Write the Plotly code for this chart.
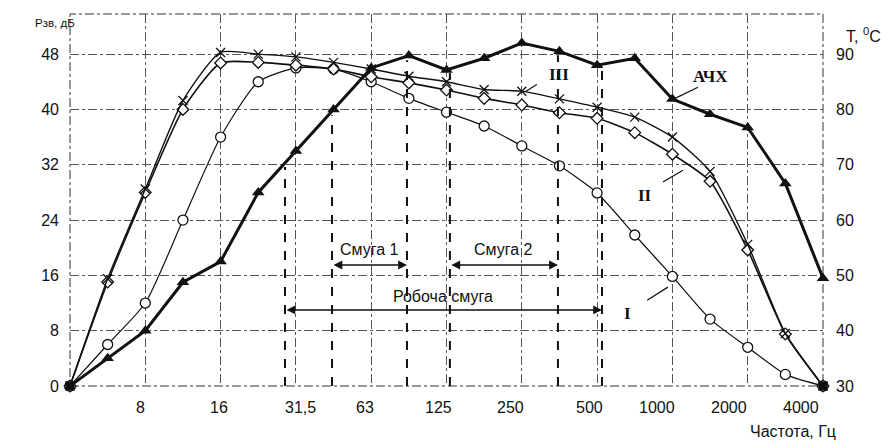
import numpy as np
import plotly.graph_objects as go

# ---------------- data ----------------
step = list(range(21))  # half-octave steps from 4 Hz to ~5600 Hz
freq_labels = ["8", "16", "31,5", "63", "125", "250", "500", "1000", "2000", "4000"]

# АЧХ, dB (left axis)
ach_db = [0, 4, 8, 15, 18, 28, 34, 40, 46, 47.8, 45.7, 47.4, 49.6, 48.4, 46.4,
          47.4, 41.5, 39.3, 37.4, 29.3, 15.6]
# temperature curves, °C (right axis)
t_I = [30, 37.5, 45, 60, 75, 85, 87.5, 87.3, 85, 82, 79.5, 77, 73.4, 69.8, 64.9,
       57.3, 49.8, 42.1, 37, 32.1, 30]
t_II = [30, 48.8, 65, 80, 88.4, 88.5, 88, 87.3, 85.9, 84.8, 83.5, 82, 80.8, 79.4,
        78.4, 75.8, 71.9, 67, 54.6, 39.4, 30]
t_III = [30, 49.4, 65.6, 81.6, 90.3, 90, 89.5, 88.5, 87.3, 86, 85, 83.6, 83.3,
         81.9, 80.4, 78.6, 75, 68.8, 55.6, 39.5, 30]

# band edges (in half-octave steps)
band_work = (5.71, 14.13)
band_1 = (6.96, 8.95)
band_2 = (10.09, 12.96)

# ---------------- layout helpers ----------------
label_pos = [1.86, 3.96, 6.11, 7.83, 9.80, 11.71, 13.81, 15.59, 17.50, 19.42]
Y_TOP = 53.8
T_TOP = 30 + Y_TOP * 1.25
SANS = "Liberation Sans, Arial, sans-serif"
SERIF = "Liberation Serif, Times New Roman, serif"
BLACK = "#111111"

fig = go.Figure()

fig.add_trace(go.Scatter(
    x=step, y=t_I, yaxis="y2", mode="lines+markers", line=dict(color=BLACK, width=1.2, shape="spline", smoothing=0.6),
    marker=dict(symbol="circle", size=10, color="white", line=dict(color=BLACK, width=1.3)),
    cliponaxis=False, showlegend=False))
fig.add_trace(go.Scatter(
    x=step, y=t_II, yaxis="y2", mode="lines+markers", line=dict(color=BLACK, width=1.6, shape="spline", smoothing=0.6),
    marker=dict(symbol="diamond", size=9, color="white", line=dict(color=BLACK, width=1.3)),
    cliponaxis=False, showlegend=False))
fig.add_trace(go.Scatter(
    x=step, y=t_III, yaxis="y2", mode="lines+markers", line=dict(color=BLACK, width=1.4, shape="spline", smoothing=0.6),
    marker=dict(symbol="x-thin", size=9, color=BLACK, line=dict(color=BLACK, width=1.3)),
    cliponaxis=False, showlegend=False))
fig.add_trace(go.Scatter(
    x=step, y=ach_db, mode="lines+markers", line=dict(color=BLACK, width=3),
    marker=dict(symbol="triangle-up", size=11, color=BLACK),
    cliponaxis=False, showlegend=False))
# end squares
fig.add_trace(go.Scatter(
    x=[step[0], step[-1]], y=[t_I[0], t_I[-1]], yaxis="y2", mode="markers",
    marker=dict(symbol="square", size=9, color=BLACK), cliponaxis=False, showlegend=False))

shapes = []
# plot border
shapes.append(dict(type="rect", xref="paper", yref="paper", x0=0, x1=1, y0=0, y1=1,
                   line=dict(color="#333", width=1, dash="dashdot"), layer="below"))
# band dashed verticals
for xe in [band_work[0], band_1[0], band_1[1], band_2[0], band_2[1], band_work[1]]:
    top = float(np.interp(xe, step, ach_db)) - 0.6
    shapes.append(dict(type="line", xref="x", yref="y", x0=xe, x1=xe, y0=0, y1=top,
                       line=dict(color=BLACK, width=2, dash="dash")))

# leader lines for curve labels
leaders = [((16.68, 43.2), (16.07, 41.6)), ((12.40, 43.6), (12.10, 42.6)),
           ((15.75, 29.5), (16.28, 31.2)), ((15.33, 12.4), (15.88, 14.3))]
for (a, b) in leaders:
    shapes.append(dict(type="line", xref="x", yref="y", x0=a[0], y0=a[1], x1=b[0], y1=b[1],
                       line=dict(color=BLACK, width=1.2)))

ann = []
for lab, p in zip(freq_labels, label_pos):
    ann.append(dict(x=p, y=0, xref="x", yref="paper", yshift=-21, text=lab, showarrow=False,
                    font=dict(family=SANS, size=16, color=BLACK), yanchor="middle"))

# band arrows
for (x0, x1), yv in [(band_work, 11), (band_1, 17.5), (band_2, 17.5)]:
    ann.append(dict(x=x1, y=yv, ax=x0, ay=yv, xref="x", yref="y", axref="x", ayref="y",
                    text="", showarrow=True, arrowhead=2, arrowside="end+start", arrowsize=1.1,
                    arrowwidth=1.6, arrowcolor=BLACK, standoff=0, startstandoff=0))
ann.append(dict(x=(band_1[0] + band_1[1]) / 2, y=19.7, xref="x", yref="y", text="Смуга 1",
                showarrow=False, font=dict(family=SANS, size=16, color=BLACK)))
ann.append(dict(x=(band_2[0] + band_2[1]) / 2, y=19.7, xref="x", yref="y", text="Смуга 2",
                showarrow=False, font=dict(family=SANS, size=16, color=BLACK)))
ann.append(dict(x=(band_work[0] + band_work[1]) / 2, y=12.9, xref="x", yref="y", text="Робоча смуга",
                showarrow=False, font=dict(family=SANS, size=16, color=BLACK)))

# curve labels
for txt, xx, yy in [("АЧХ", 17.0, 44.7), ("III", 12.99, 45.0), ("II", 15.27, 27.6), ("I", 14.82, 10.55)]:
    ann.append(dict(x=xx, y=yy, xref="x", yref="y", text="<b>" + txt + "</b>", showarrow=False,
                    font=dict(family=SERIF, size=17, color=BLACK)))

# axis titles
ann.append(dict(x=-0.049, y=0.997, xref="paper", yref="paper", text="Рзв, дБ", showarrow=False,
                font=dict(family=SANS, size=11.5, color=BLACK)))
ann.append(dict(x=1.0, y=1.0, xref="paper", yref="paper", xshift=40, yshift=-21,
                text="T, <sup>0</sup>C", showarrow=False, xanchor="center", yanchor="middle",
                font=dict(family=SANS, size=16, color=BLACK)))
ann.append(dict(x=1.0, y=0, xref="paper", yref="paper", xshift=-30, yshift=-45,
                text="Частота, Гц", showarrow=False, xanchor="center", yanchor="middle",
                font=dict(family=SANS, size=16, color=BLACK)))

fig.update_layout(
    width=891, height=443,
    margin=dict(l=70, r=68, t=14, b=57),
    paper_bgcolor="white", plot_bgcolor="white",
    xaxis=dict(range=[0, 20], tickvals=list(range(0, 21, 2)), showticklabels=False,
               showgrid=True, gridcolor="#555", gridwidth=1, griddash="dashdot",
               zeroline=False, showline=False, ticks=""),
    yaxis=dict(range=[0, Y_TOP], tickvals=list(range(0, 49, 8)), showgrid=True,
               gridcolor="#555", gridwidth=1, griddash="dashdot", zeroline=False,
               showline=False, ticks="", ticklabelstandoff=10,
               tickfont=dict(family=SANS, size=16, color=BLACK)),
    yaxis2=dict(range=[30, T_TOP], tickvals=list(range(30, 91, 10)), overlaying="y",
                side="right", showgrid=False, zeroline=False, showline=False, ticks="",
                ticklabelstandoff=12, tickfont=dict(family=SANS, size=16, color=BLACK)),
    shapes=shapes, annotations=ann,
)

fig.write_html("out.html")
